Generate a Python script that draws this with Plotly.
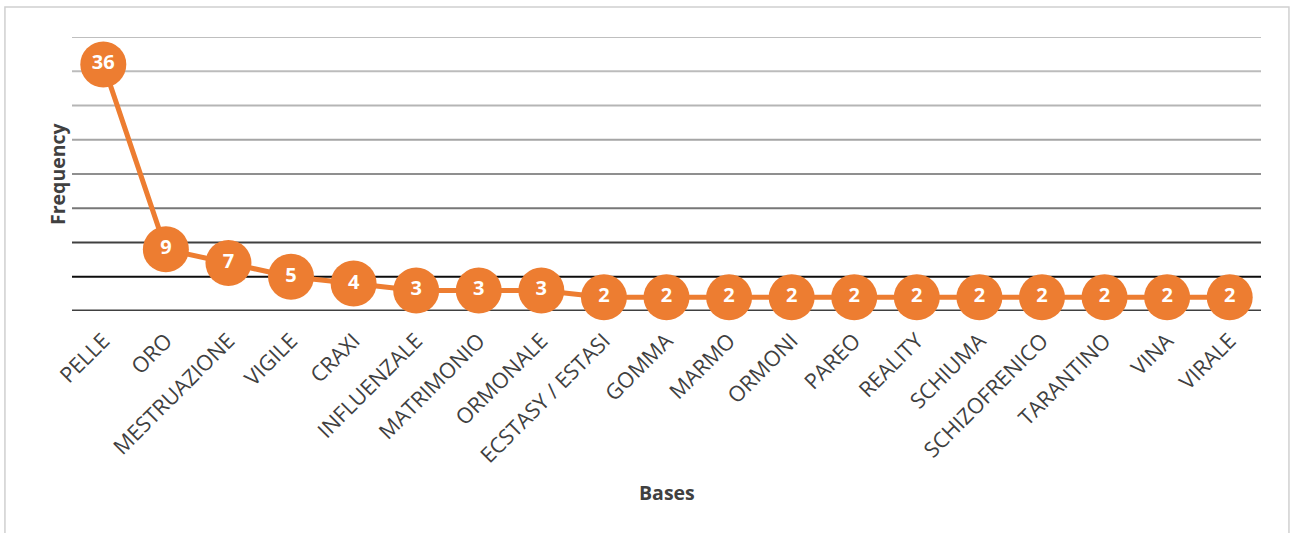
import plotly.graph_objects as go

categories = ["PELLE", "ORO", "MESTRUAZIONE", "VIGILE", "CRAXI", "INFLUENZALE",
              "MATRIMONIO", "ORMONALE", "ECSTASY / ESTASI", "GOMMA", "MARMO",
              "ORMONI", "PAREO", "REALITY", "SCHIUMA", "SCHIZOFRENICO",
              "TARANTINO", "VINA", "VIRALE"]
frequency = [36, 9, 7, 5, 4, 3, 3, 3, 2, 2, 2, 2, 2, 2, 2, 2, 2, 2, 2]

grid_values = [5, 10, 15, 20, 25, 30, 35, 40]
grid_colors = ["#0d0d0d", "#404040", "#777777", "#8f8f8f",
               "#a5a5a5", "#b5b5b5", "#bcbcbc", "#bfbfbf"]

ORANGE = "#ED7D31"
FONT = "Open Sans"

fig = go.Figure(go.Scatter(
    x=categories, y=frequency,
    mode="lines+markers+text",
    text=[str(v) for v in frequency],
    textposition="middle center",
    line=dict(color=ORANGE, width=5),
    marker=dict(size=46, color=ORANGE),
    textfont=dict(color="white", size=20, family=FONT, weight="bold"),
    cliponaxis=False,
    hoverinfo="x+y",
))

shapes = []
for v, c in zip(grid_values, grid_colors):
    shapes.append(dict(type="line", xref="paper", yref="y", x0=0, x1=1, y0=v, y1=v,
                       line=dict(color=c, width=2), layer="below"))
shapes.append(dict(type="line", xref="paper", yref="y", x0=0, x1=1, y0=0, y1=0,
                   line=dict(color="#404040", width=3), layer="below"))
# chart border
shapes.append(dict(type="rect", xref="paper", yref="paper",
                   x0=-0.0564, x1=1.0235, y0=-0.9, y1=1.1095,
                   line=dict(color="#d0d0d0", width=1.5), layer="below"))

fig.update_layout(
    width=1290, height=533,
    margin=dict(l=72, r=29, t=37, b=222),
    paper_bgcolor="white", plot_bgcolor="white",
    showlegend=False,
    shapes=shapes,
    font=dict(family=FONT, color="#404040"),
    xaxis=dict(type="category", range=[-0.5, len(categories) - 0.5],
               tickangle=-45, tickfont=dict(size=21.5, family=FONT, color="#404040"),
               showgrid=False, showline=False, zeroline=False, ticks="",
               ticklabelstandoff=12),
    yaxis=dict(range=[0, 40], showticklabels=False, showgrid=False,
               zeroline=False, showline=False),
    annotations=[
        dict(text="<b>Bases</b>", xref="paper", yref="paper", x=0.5, y=-0.664,
             showarrow=False, font=dict(size=19.5, family=FONT, color="#404040"),
             xanchor="center", yanchor="middle"),
        dict(text="<b>Frequency</b>", xref="paper", yref="paper", x=-0.0126, y=0.5,
             showarrow=False, textangle=-90,
             font=dict(size=19.5, family=FONT, color="#404040"),
             xanchor="center", yanchor="middle"),
    ],
)

fig.write_html("out.html")
